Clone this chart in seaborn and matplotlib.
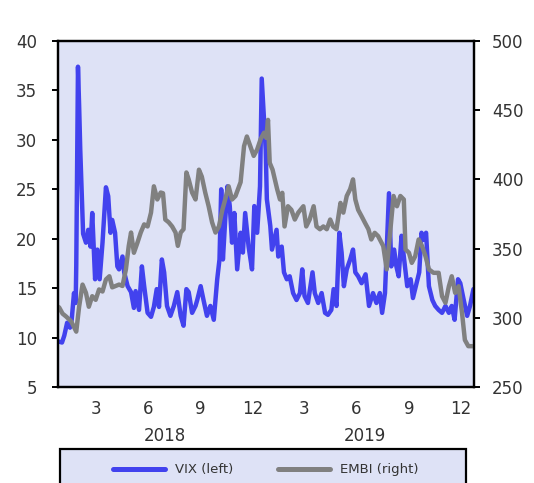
import pandas as pd
import matplotlib
matplotlib.use("Agg")
import matplotlib.pyplot as plt
from matplotlib.patches import Rectangle
from matplotlib.lines import Line2D
import seaborn as sns

# ---- data -----------------------------------------------------------------
vix_dates = [
    "2018-01-02", "2018-01-08", "2018-01-12", "2018-01-17", "2018-01-22", "2018-01-25",
    "2018-01-29", "2018-02-01", "2018-02-02", "2018-02-05", "2018-02-07", "2018-02-09",
    "2018-02-12", "2018-02-14", "2018-02-19", "2018-02-23", "2018-02-27", "2018-03-02",
    "2018-03-07", "2018-03-11", "2018-03-15", "2018-03-20", "2018-03-26", "2018-03-30",
    "2018-04-03", "2018-04-06", "2018-04-11", "2018-04-15", "2018-04-18", "2018-04-24",
    "2018-04-27", "2018-05-03", "2018-05-09", "2018-05-14", "2018-05-17", "2018-05-23",
    "2018-05-28", "2018-06-01", "2018-06-07", "2018-06-13", "2018-06-18", "2018-06-23",
    "2018-06-27", "2018-07-02", "2018-07-06", "2018-07-08", "2018-07-11", "2018-07-17",
    "2018-07-23", "2018-07-29", "2018-08-04", "2018-08-09", "2018-08-14", "2018-08-18",
    "2018-08-24", "2018-08-30", "2018-09-02", "2018-09-08", "2018-09-13", "2018-09-19",
    "2018-09-25", "2018-10-01", "2018-10-07", "2018-10-11", "2018-10-14", "2018-10-17",
    "2018-10-21", "2018-10-25", "2018-10-29", "2018-11-02", "2018-11-06", "2018-11-11",
    "2018-11-17", "2018-11-21", "2018-11-25", "2018-12-01", "2018-12-07", "2018-12-11",
    "2018-12-16", "2018-12-21", "2018-12-24", "2018-12-31",
    "2019-01-02", "2019-01-08", "2019-01-11", "2019-01-19", "2019-01-22", "2019-01-28",
    "2019-02-01", "2019-02-06", "2019-02-11", "2019-02-17", "2019-02-23", "2019-03-01",
    "2019-03-05", "2019-03-09", "2019-03-15", "2019-03-23", "2019-03-27", "2019-04-02",
    "2019-04-08", "2019-04-14", "2019-04-19", "2019-04-25", "2019-04-29", "2019-05-04",
    "2019-05-09", "2019-05-13", "2019-05-17", "2019-05-22", "2019-05-28", "2019-06-02",
    "2019-06-06", "2019-06-11", "2019-06-17", "2019-06-24", "2019-06-30", "2019-07-07",
    "2019-07-13", "2019-07-19", "2019-07-23", "2019-07-28", "2019-08-04", "2019-08-08",
    "2019-08-13", "2019-08-17", "2019-08-21", "2019-08-26", "2019-08-30", "2019-09-05",
    "2019-09-11", "2019-09-15", "2019-09-20", "2019-09-26", "2019-09-30", "2019-10-04",
    "2019-10-08", "2019-10-13", "2019-10-19", "2019-10-24", "2019-10-30", "2019-11-05",
    "2019-11-11", "2019-11-17", "2019-11-22", "2019-11-27", "2019-12-03", "2019-12-07",
    "2019-12-13", "2019-12-19", "2019-12-24", "2019-12-30",
]
vix_values = [
    9.6, 9.5, 10.2, 11.5, 11.0, 11.8,
    14.5, 13.5, 17.3, 37.4, 33.5, 29.0,
    24.0, 20.5, 19.6, 20.9, 19.2, 22.6,
    15.9, 18.9, 15.9, 19.6, 25.2, 24.3,
    20.6, 21.9, 20.6, 17.2, 16.9, 18.2,
    16.6, 15.2, 14.6, 13.0, 14.7, 12.8,
    17.2, 15.2, 12.5, 12.1, 13.1, 14.9,
    13.1, 17.9, 16.6, 15.2, 13.2, 12.2,
    13.2, 14.6, 12.2, 11.2, 14.9, 14.6,
    12.5, 13.2, 13.8, 15.2, 13.8, 12.2,
    13.2, 11.8, 15.9, 17.9, 25.0, 17.9,
    21.9, 25.3, 23.3, 19.6, 22.6, 16.9,
    20.6, 18.6, 22.6, 19.2, 16.9, 23.3,
    20.6, 25.3, 36.2, 29.0,
    24.0, 21.3, 18.9, 20.9, 18.2, 19.2,
    16.6, 15.9, 16.2, 14.5, 13.8, 14.5,
    16.9, 14.2, 13.5, 16.6, 14.5, 13.5,
    14.5, 12.5, 12.3, 12.8, 14.9, 13.2,
    20.6, 18.6, 15.2, 16.9, 17.9, 18.9,
    16.6, 16.2, 15.5, 16.4, 13.2, 14.5,
    13.5, 14.5, 12.5, 14.5, 24.6, 17.2,
    18.9, 17.2, 16.2, 20.3, 18.2, 15.2,
    15.9, 14.0, 15.2, 16.6, 20.6, 19.9,
    20.6, 15.2, 13.8, 13.2, 12.8, 12.5,
    13.2, 12.5, 13.2, 11.8, 15.9, 15.5,
    13.8, 12.2, 13.2, 14.9,
]

embi_dates = [
    "2018-01-01", "2018-01-03", "2018-01-09", "2018-01-15", "2018-01-24", "2018-02-02",
    "2018-02-07", "2018-02-13", "2018-02-19", "2018-02-24", "2018-03-02", "2018-03-08",
    "2018-03-14", "2018-03-20", "2018-03-26", "2018-04-01", "2018-04-06", "2018-04-12",
    "2018-04-18", "2018-04-24", "2018-04-30", "2018-05-05", "2018-05-09", "2018-05-14",
    "2018-05-20", "2018-05-26", "2018-06-01", "2018-06-07", "2018-06-13", "2018-06-18",
    "2018-06-24", "2018-06-30", "2018-07-04", "2018-07-08", "2018-07-14", "2018-07-20",
    "2018-07-26", "2018-07-30", "2018-08-04", "2018-08-09", "2018-08-14", "2018-08-18",
    "2018-08-24", "2018-08-30", "2018-09-05", "2018-09-10", "2018-09-16", "2018-09-22",
    "2018-09-28", "2018-10-04", "2018-10-10", "2018-10-16", "2018-10-21", "2018-10-27",
    "2018-11-02", "2018-11-08", "2018-11-17", "2018-11-23", "2018-11-28", "2018-12-04",
    "2018-12-10", "2018-12-16", "2018-12-22", "2018-12-28",
    "2019-01-01", "2019-01-04", "2019-01-07", "2019-01-12", "2019-01-20", "2019-01-25",
    "2019-01-29", "2019-02-02", "2019-02-08", "2019-02-14", "2019-02-20", "2019-02-26",
    "2019-03-07", "2019-03-12", "2019-03-18", "2019-03-25", "2019-03-30", "2019-04-05",
    "2019-04-11", "2019-04-17", "2019-04-23", "2019-04-28", "2019-05-04", "2019-05-11",
    "2019-05-16", "2019-05-22", "2019-05-28", "2019-06-02", "2019-06-06", "2019-06-11",
    "2019-06-17", "2019-06-23", "2019-06-29", "2019-07-04", "2019-07-10", "2019-07-16",
    "2019-07-19", "2019-07-25", "2019-07-31", "2019-08-06", "2019-08-12", "2019-08-18",
    "2019-08-24", "2019-08-30", "2019-09-02", "2019-09-08", "2019-09-13", "2019-09-19",
    "2019-09-25", "2019-10-01", "2019-10-07", "2019-10-13", "2019-10-21", "2019-10-30",
    "2019-11-05", "2019-11-11", "2019-11-17", "2019-11-22", "2019-11-28", "2019-12-04",
    "2019-12-10", "2019-12-15", "2019-12-21", "2019-12-30",
]
embi_values = [
    308, 307.5, 303, 301, 297.5, 290,
    308, 324, 318, 308, 315.6, 313,
    320.5, 319, 327.7, 330, 322, 323,
    324, 323, 335, 352, 361.6, 347,
    354, 361.6, 367.5, 366, 376, 395,
    385.5, 390.5, 390, 371, 369, 366,
    361.6, 352, 361.6, 364, 405, 400,
    390.5, 385.5, 407, 402, 390.5, 380.6,
    369, 361.6, 366, 378, 385.5, 395,
    385.5, 388, 398, 424, 431, 424,
    417, 421.6, 429, 433.7,
    430, 443, 412, 407, 393, 385.5,
    390.3, 366, 380.6, 378, 371, 376,
    380.6, 366, 371, 380.6, 366, 364,
    366, 364, 371, 366, 364, 383,
    376, 388, 393, 400, 385.5, 378,
    373.4, 368.6, 364, 356.6, 361.4, 359,
    356.6, 351.8, 335, 361.4, 388, 380.6,
    388, 385.5, 349.4, 347, 339.7, 344.5,
    356.6, 351.8, 344.5, 335, 332.5, 332.5,
    315.6, 310.8, 322.8, 330, 318, 322.8,
    303.6, 284, 279.5, 279.5,
]

tick_months = [3, 6, 9, 12]
years = [2018, 2019]
vix_ticks = [5, 10, 15, 20, 25, 30, 35, 40]
embi_ticks = [250, 300, 350, 400, 450, 500]

series_labels = ["VIX (left)", "EMBI (right)"]

# ---- style ----------------------------------------------------------------
BG = "#dee2f6"
BLUE = "#4242ee"
GREY = "#808080"
TEXT = "#333333"

sns.set_theme(style="white")
plt.rcParams["font.family"] = ["DejaVu Sans"]

W, H = 534, 483
fig = plt.figure(figsize=(W / 100, H / 100), dpi=100)
fig.patch.set_facecolor("white")

ax = fig.add_axes([58 / W, 1 - 387 / H, 416 / W, 346 / H])
ax.set_facecolor(BG)
ax2 = ax.twinx()

vix = pd.DataFrame({"date": pd.to_datetime(vix_dates), "value": vix_values})
embi = pd.DataFrame({"date": pd.to_datetime(embi_dates), "value": embi_values})

sns.lineplot(data=vix, x="date", y="value", ax=ax, color=BLUE, lw=3.2)
sns.lineplot(data=embi, x="date", y="value", ax=ax2, color=GREY, lw=3.2)

ax.set_xlim(pd.Timestamp("2018-01-01"), pd.Timestamp("2019-12-31"))
ax.set_ylim(5, 40)
ax2.set_ylim(250, 500)
ax.set_yticks(vix_ticks)
ax2.set_yticks(embi_ticks)

tick_pos = [pd.Timestamp(year=y, month=m, day=8) for y in years for m in tick_months]
tick_lab = [str(m) for y in years for m in tick_months]
ax.set_xticks(tick_pos)
ax.set_xticklabels(tick_lab)

for a in (ax, ax2):
    a.set_xlabel("")
    a.set_ylabel("")
    for sp in a.spines.values():
        sp.set_visible(True)
        sp.set_color("black")
        sp.set_linewidth(1.6)

ax.tick_params(axis="x", length=0, pad=9, labelsize=12, labelcolor=TEXT)
ax.tick_params(axis="y", left=True, direction="out", length=4, width=1.4,
               color="black", pad=11, labelsize=12, labelcolor=TEXT)
ax2.tick_params(axis="y", right=True, direction="out", length=4, width=1.4,
                color="black", pad=9, labelsize=12, labelcolor=TEXT)

year_x = [0.256, 0.738]
for yx, yr in zip(year_x, years):
    ax.text(yx, -0.142, str(yr), transform=ax.transAxes, ha="center", va="center",
            fontsize=12, color=TEXT)

# legend panel at the bottom
fig.add_artist(Rectangle((60 / W, -0.05), 406 / W, 0.05 + 1 - 449 / H,
                         transform=fig.transFigure, facecolor=BG, edgecolor="black",
                         linewidth=1.6, clip_on=False))
handles = [Line2D([], [], color=BLUE, lw=3.6), Line2D([], [], color=GREY, lw=3.6)]
fig.legend(handles, series_labels, loc="center", bbox_to_anchor=(266 / W, 1 - 470 / H),
           ncol=2, frameon=False, handlelength=3.9, handletextpad=0.8,
           columnspacing=3.4, fontsize=9.5, labelcolor=TEXT)

fig.savefig("out.png", dpi=100, facecolor="white")
